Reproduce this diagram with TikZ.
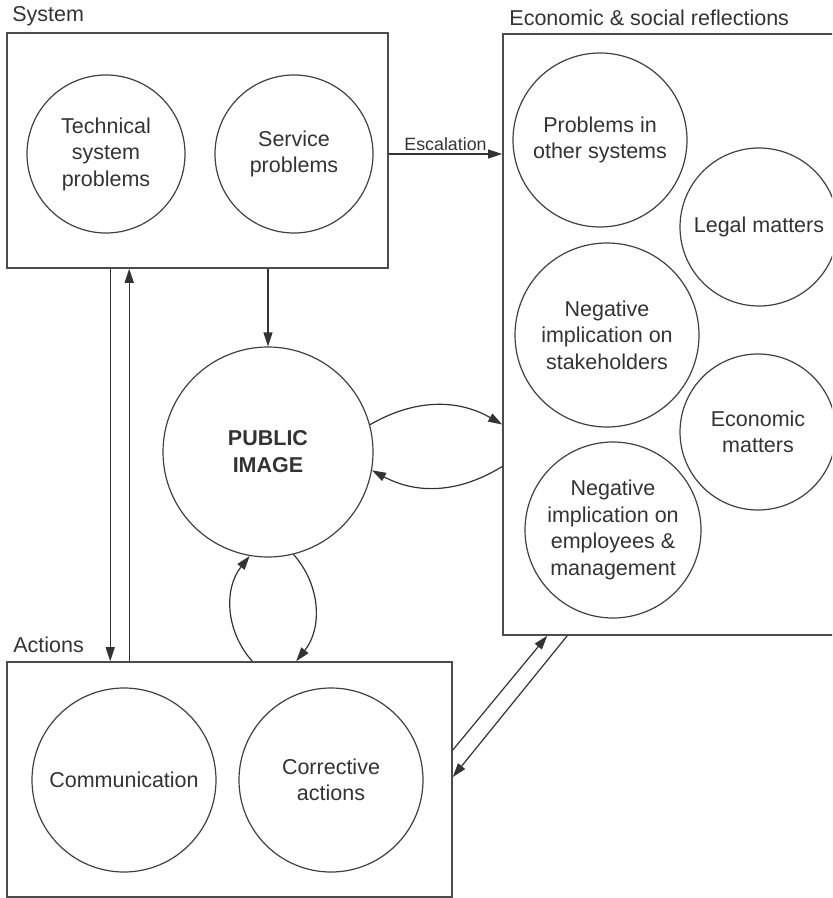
\documentclass[tikz,border=0pt]{standalone}
\usepackage{fontspec}
\setmainfont{Liberation Sans}
\usetikzlibrary{positioning,arrows.meta}

\begin{document}
\begin{tikzpicture}[x=0.5pt, y=-0.5pt,
    every node/.style={text=black!80, font=\fontsize{10.75}{13.25}\selectfont},
    area/.style={draw=black!70, line width=0.8pt, rectangle, inner sep=0pt},
    topic/.style={draw=black!75, line width=0.6pt, circle, inner sep=0pt, align=center},
    title/.style={anchor=west, inner sep=0pt},
    arr/.style={draw=black!80, line width=0.6pt, -{Triangle[length=7pt,width=4.5pt]}}]
        \useasboundingbox (0,0) rectangle (832,898);
        \clip (0,0) rectangle (832,898);
        % the three boxes
        \node[area, minimum width=190.5pt, minimum height=117.5pt] (system) at (197.5,150.5) {};
        \node[area, minimum width=173.5pt, minimum height=300.5pt] (econ) at (676.5,334.5) {};
        \node[area, minimum width=222.5pt, minimum height=117.5pt] (actions) at (229.5,779.5) {};
        \node[title] (systemtitle) at (12,16) {System};
        \node[title] (econtitle) at (509,18) {Economic \& social reflections};
        \node[title] (actionstitle) at (13,645) {Actions};
        % circles
        \node[topic, minimum size=79pt] (technical) at (106,154) {Technical\\system\\problems};
        \node[topic, minimum size=79pt] (service) at (294,154) {Service\\problems};
        \node[topic, minimum size=87pt] (others) at (600,140) {Problems in\\other systems};
        \node[topic, minimum size=79pt] (legal) at (759,227) {Legal matters};
        \node[topic, minimum size=92pt] (stakeholders) at (607,335) {Negative\\implication on\\stakeholders};
        \node[topic, minimum size=78pt] (economic) at (758,432) {Economic\\matters};
        \node[topic, minimum size=88pt] (employees) at (613,530) {Negative\\implication on\\employees \&\\management};
        \node[topic, minimum size=105pt, font=\fontsize{10.75}{13.5}\selectfont\bfseries] (public) at (268,452) {PUBLIC\\IMAGE};
        \node[topic, minimum size=92pt] (communication) at (124,780) {Communication};
        \node[topic, minimum size=92pt] (corrective) at (331,780) {Corrective\\actions};
        % connectors
        \draw[arr] (system.east |- service) -- (econ.west |- service)
            node[midway, above, inner sep=1.5pt, font=\fontsize{8.9}{10}\selectfont] (escalation) {Escalation};
        \draw[arr] (system.south -| public) -- (public);
        \draw[arr] ([xshift=52pt]system.south west) -- ([xshift=52pt]actions.north west);
        \draw[arr] ([xshift=61.5pt]actions.north west) -- ([xshift=61.5pt]system.south west);
        \draw[arr] (public.15) to[bend left=30] ([yshift=-45pt]econ.west);
        \draw[arr] ([yshift=-66pt]econ.west) to[bend left=30] (public.-10);
        \draw[arr] ([xshift=123pt]actions.north west) to[bend left=40] (public.260);
        \draw[arr] (public.-76) to[bend left=40] ([xshift=145pt]actions.north west);
        \draw[arr] ([yshift=14.75pt]actions.east) -- ([xshift=22.5pt]econ.south west);
        \draw[arr] ([xshift=32.5pt]econ.south west) -- ([yshift=1.25pt]actions.east);
      \end{tikzpicture}
\end{document}
